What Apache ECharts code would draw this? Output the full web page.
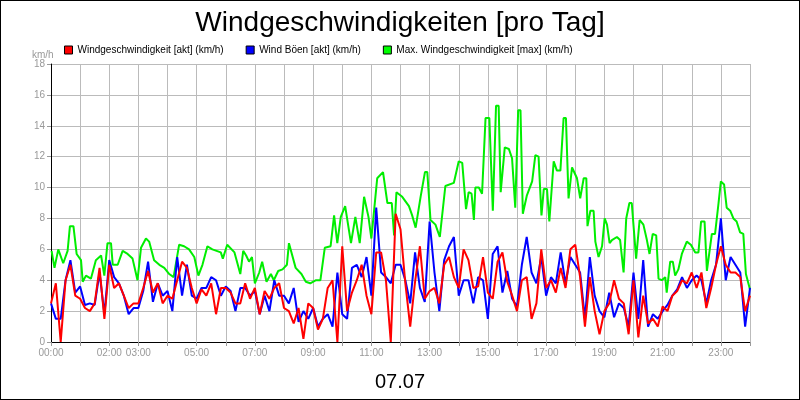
<!DOCTYPE html>
<html>
<head>
<meta charset="utf-8">
<script src="https://cdn.jsdelivr.net/npm/echarts@6/dist/echarts.min.js"></script>
<style>
  html, body { margin: 0; padding: 0; background: #fff; }
  #chart { width: 798px; height: 398px; border: 1px solid #000; }
</style>
</head>
<body>
<div id="chart"></div>
<script>
// Stunden mit Beschriftung
const tickHours = [0, 2, 3, 5, 7, 9, 11, 13, 15, 17, 19, 21, 23];

// 10-Minuten-Werte (0..24h, 145 Stück)
const windAkt = [
  2.5,3.8,0,4.0,5.0,3.0, 2.8,2.2,2.0,2.5,4.8,1.5,
  5.0,3.5,3.8,3.0,2.2,2.5, 2.5,3.5,4.6,3.2,3.8,2.5,
  3.0,2.8,4.0,5.2,4.8,3.5, 2.5,3.4,3.0,3.8,1.8,3.5,
  3.5,3.2,2.5,2.5,3.8,2.8, 3.5,1.8,3.3,2.8,3.5,3.8,
  2.2,2.0,1.2,2.2,0.2,2.5, 2.2,0.8,1.5,3.5,4.0,0.0,
  6.2,2.0,3.2,4.0,5.0,3.0, 1.8,5.8,5.8,4.0,0,8.3,
  7.3,3.8,1.0,3.9,6.2,2.8, 3.3,3.5,2.5,5.0,5.5,4.2,
  3.5,6.0,5.3,3.5,3.6,5.5, 3.2,2.8,5.2,5.8,3.9,3.0,
  2.0,4.0,4.2,1.5,2.5,6.0, 3.5,4.0,3.2,4.8,3.5,6.0,
  6.3,4.2,1.0,4.2,2.0,0.5, 2.0,2.5,4.0,2.8,2.5,0.5,
  4.0,0.3,3.0,1.2,1.5,1.0, 2.3,2.0,3.0,3.3,4.0,3.8,
  4.5,3.5,4.5,2.2,3.5,5.0, 6.2,5.0,4.5,4.5,4.2,2.0,
  3.0
];
const windBoeen = [
  2.5,1.5,1.5,4.0,5.3,3.2, 3.6,2.4,2.5,2.4,4.5,1.8,
  5.3,4.2,3.8,3.0,1.8,2.2, 2.2,3.3,5.2,2.6,3.8,3.0,
  3.3,2.0,5.5,3.0,5.0,3.0, 2.8,3.5,3.5,4.2,4.0,3.0,
  3.6,3.3,2.0,3.5,3.5,3.0, 3.3,1.8,3.0,2.0,4.0,3.0,
  3.0,2.5,3.5,1.3,2.0,1.5, 2.2,1.0,1.5,1.8,1.0,4.5,
  1.8,1.5,4.8,5.0,4.2,5.5, 3.0,8.7,4.5,4.2,3.8,5.0,
  5.0,4.0,2.5,5.8,3.5,2.6, 7.8,4.5,2.0,5.3,6.2,6.8,
  3.0,4.0,4.0,2.5,4.2,4.0, 1.5,5.7,6.2,3.2,4.6,2.8,
  2.3,5.0,6.8,4.5,3.8,5.5, 3.0,4.2,3.8,5.8,3.8,5.5,
  5.0,4.5,1.5,5.5,3.0,2.0, 1.6,3.2,1.6,2.5,2.2,1.0,
  4.5,1.5,5.3,1.0,1.8,1.5, 2.0,2.4,3.0,3.4,4.2,3.5,
  4.0,4.3,4.0,2.5,4.0,5.0, 8.0,4.0,5.5,5.0,4.5,1.0,
  3.5
];

// Max.-Werte: Zeitpunkte (h) und Werte
const maxZeit = [
  0.02,0.12,0.25,0.42,0.57,0.65,0.77,0.88,1.03,1.09,1.2,1.37,1.54,1.72,1.83,1.94,2.06,2.12,2.29,2.46,2.63,2.8,2.97,
  3.09,3.26,3.37,3.54,3.72,3.89,4.06,4.21,4.4,4.57,4.74,4.92,5.06,5.2,5.37,5.54,5.83,5.9,6.05,6.3,6.5,6.6,6.7,6.8,6.9,
  7.0,7.15,7.25,7.4,7.55,7.65,7.8,7.95,8.1,8.17,8.4,8.6,8.75,8.9,9.1,9.25,9.4,9.6,9.72,9.83,9.95,10.1,10.3,10.45,10.6,
  10.75,10.9,11.0,11.2,11.4,11.55,11.7,11.78,11.86,12.06,12.29,12.4,12.52,12.69,12.84,12.92,13.03,13.2,13.35,13.54,
  13.83,14.0,14.12,14.25,14.34,14.44,14.52,14.57,14.69,14.8,14.92,15.05,15.17,15.28,15.37,15.44,15.58,15.72,15.83,
  15.94,16.04,16.12,16.2,16.34,16.52,16.63,16.74,16.84,16.92,17.03,17.11,17.26,17.37,17.49,17.6,17.68,17.77,17.89,
  18.06,18.17,18.29,18.38,18.42,18.52,18.63,18.69,18.8,18.92,19.01,19.09,19.18,19.26,19.43,19.54,19.66,19.75,19.86,
  19.94,20.09,20.21,20.34,20.46,20.55,20.66,20.78,20.86,20.97,21.09,21.14,21.26,21.35,21.43,21.54,21.66,21.83,21.97,
  22.12,22.23,22.32,22.44,22.52,22.69,22.8,22.92,23.0,23.11,23.2,23.32,23.43,23.54,23.66,23.77,23.86,24.0
];
const maxWert = [
  5.9,4.8,6.0,5.1,5.9,7.5,7.5,5.7,5.3,3.9,4.3,4.1,5.3,5.6,4.3,6.4,6.4,5.0,5.0,5.9,5.7,5.4,4.0,
  6.1,6.7,6.5,5.3,5.0,4.8,4.4,4.2,6.3,6.2,6.0,5.5,4.3,5.0,6.2,6.0,5.8,5.4,6.3,5.8,4.4,5.9,5.6,5.2,5.5,
  3.8,4.5,5.2,3.9,4.4,4.0,4.6,4.7,5.0,6.4,4.8,4.4,3.9,3.8,4.0,4.0,6.1,6.2,8.2,6.4,8.1,8.8,6.4,8.1,6.4,
  9.4,8.1,6.7,10.6,11.0,9.0,9.0,6.9,9.7,9.4,8.8,8.2,7.4,9.4,11.0,11.0,7.9,7.6,6.8,10.1,
  10.3,11.7,11.6,8.6,9.7,9.6,7.9,10.0,10.0,9.6,14.5,14.5,8.5,15.3,15.3,9.7,12.6,12.5,11.9,
  8.7,15.0,15.0,8.3,9.5,10.4,12.1,12.0,8.2,9.9,9.9,7.8,11.7,11.1,11.1,14.5,14.5,9.3,11.3,
  10.6,9.3,10.6,10.6,7.5,8.5,8.5,6.5,5.5,6.2,8.0,7.6,6.4,6.6,6.8,6.6,4.5,8.0,9.0,
  9.0,5.4,7.9,7.6,6.6,5.7,7.0,6.9,4.1,4.0,4.2,3.2,5.2,5.2,4.3,4.7,5.7,6.5,6.3,
  5.8,5.8,7.8,7.8,4.6,7.0,7.0,9.0,10.4,10.2,8.7,8.5,8.0,7.8,7.1,7.0,4.4,3.4
];

const zeitRaster = windAkt.map((v, i) => i / 6);
const paare = (xs, ys) => ys.map((v, i) => [xs[i], v]);

const chart = echarts.init(document.getElementById('chart'));
const schrift = 'Liberation Sans, Arial, sans-serif';
const linie = (name, farbe, daten) => ({
  name: name,
  type: 'line',
  data: daten,
  showSymbol: false,
  symbol: 'none',
  lineStyle: { color: farbe, width: 2 },
  itemStyle: { color: farbe },
  animation: false
});

chart.setOption({
  backgroundColor: '#fff',
  textStyle: { fontFamily: schrift },
  title: [
    {
      text: 'Windgeschwindigkeiten [pro Tag]',
      left: 'center', top: 3,
      textStyle: { fontSize: 28, fontWeight: 'normal', color: '#000', fontFamily: schrift }
    },
    {
      text: '07.07',
      left: 'center', top: 366,
      textStyle: { fontSize: 20, fontWeight: 'normal', color: '#000', fontFamily: schrift }
    },
    {
      text: 'km/h',
      left: 26, top: 44,
      textStyle: { fontSize: 10, fontWeight: 'normal', color: '#999', fontFamily: schrift }
    }
  ],
  legend: {
    top: 39, left: 58,
    itemGap: 22,
    itemWidth: 8, itemHeight: 8,
    icon: 'rect',
    textStyle: { fontSize: 10, color: '#000', fontFamily: schrift },
    data: [
      { name: 'Windgeschwindigkeit [akt] (km/h)', itemStyle: { color: '#ff0000', borderColor: '#000', borderWidth: 1 } },
      { name: 'Wind Böen [akt] (km/h)', itemStyle: { color: '#0000ff', borderColor: '#000', borderWidth: 1 } },
      { name: 'Max. Windgeschwindigkeit [max] (km/h)', itemStyle: { color: '#00ff00', borderColor: '#000', borderWidth: 1 } }
    ]
  },
  grid: { left: 50, right: 49, top: 63, bottom: 57 },
  xAxis: {
    type: 'value', min: 0, max: 24, interval: 1,
    axisLine: { lineStyle: { color: '#000', width: 1 } },
    axisTick: { show: true, length: 4, lineStyle: { color: '#999' } },
    splitLine: { show: true, lineStyle: { color: '#bbb', width: 1 } },
    axisLabel: {
      color: '#999', fontSize: 10, fontFamily: schrift, margin: 6,
      formatter: v => tickHours.includes(v) ? String(v).padStart(2, '0') + ':00' : ''
    }
  },
  yAxis: {
    type: 'value', min: 0, max: 18, interval: 2,
    axisLine: { show: true, lineStyle: { color: '#000', width: 1 } },
    axisTick: { show: true, length: 4, lineStyle: { color: '#999' } },
    splitLine: { show: true, lineStyle: { color: '#bbb', width: 1 } },
    axisLabel: { color: '#999', fontSize: 10, fontFamily: schrift, margin: 6 }
  },
  series: [
    linie('Max. Windgeschwindigkeit [max] (km/h)', '#00ee00', paare(maxZeit, maxWert)),
    linie('Wind Böen [akt] (km/h)', '#0000ff', paare(zeitRaster, windBoeen)),
    linie('Windgeschwindigkeit [akt] (km/h)', '#ff0000', paare(zeitRaster, windAkt))
  ]
});
</script>
</body>
</html>
